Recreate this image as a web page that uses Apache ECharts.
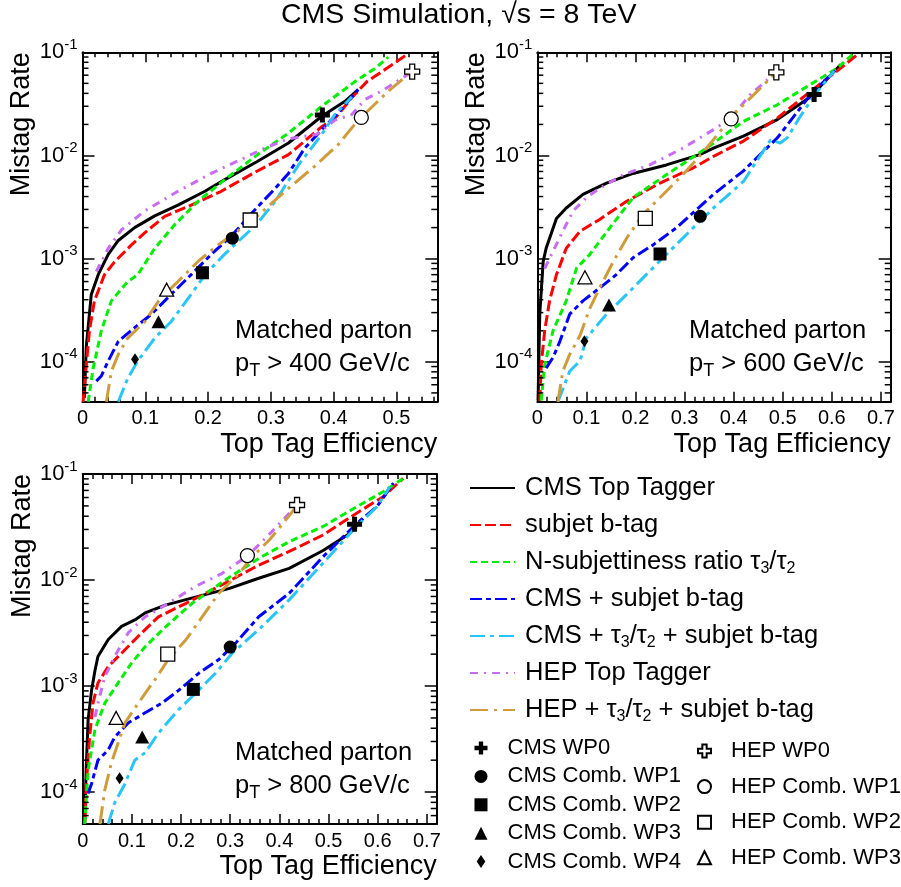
<!DOCTYPE html>
<html>
<head>
<meta charset="utf-8">
<script src="https://cdn.jsdelivr.net/npm/echarts@6/dist/echarts.min.js"></script>
<style>
html, body { margin: 0; padding: 0; background: #fff; }
#chart { width: 901px; height: 887px; }
</style>
</head>
<body>
<div id="chart"></div>
<script>
// ---- data: [top tag efficiency, mistag rate] ----
// pT > 400 GeV/c
const cms400 = [[0.003,4.5e-5],[0.006,1.4e-4],[0.014,4.5e-4],[0.025,7e-4],[0.041,1.1e-3],[0.057,1.5e-3],[0.083,2e-3],[0.115,2.6e-3],[0.152,3.3e-3],[0.195,4.5e-3],[0.226,5.8e-3],[0.279,8.8e-3],[0.328,1.32e-2],[0.381,2.4e-2],[0.418,3.35e-2],[0.439,4.35e-2]]
const subjet400 = [[0.001,4.1e-5],[0.006,9.3e-5],[0.011,2e-4],[0.019,3.9e-4],[0.035,7e-4],[0.051,9.3e-4],[0.078,1.36e-3],[0.099,1.78e-3],[0.131,2.57e-3],[0.173,3.3e-3],[0.221,4.5e-3],[0.277,7e-3],[0.328,1.02e-2],[0.381,1.9e-2],[0.405,2.4e-2],[0.43,3.7e-2],[0.453,5.2e-2],[0.48,6.7e-2],[0.5,8.1e-2],[0.514,9.3e-2]]
const nsub400 = [[0.009,4.1e-5],[0.017,8.7e-5],[0.03,2e-4],[0.046,3.9e-4],[0.072,6e-4],[0.088,7e-4],[0.115,1.26e-3],[0.147,2.14e-3],[0.184,3.6e-3],[0.226,5.8e-3],[0.279,1.02e-2],[0.328,1.65e-2],[0.381,3e-2],[0.434,5.2e-2],[0.466,7e-2],[0.487,9e-2]]
const cmsB400 = [[0.022,6.5e-5],[0.03,7.3e-5],[0.041,1.02e-4],[0.057,1.58e-4],[0.083,2.14e-4],[0.11,2.9e-4],[0.141,4.5e-4],[0.173,7e-4],[0.205,1.1e-3],[0.237,1.66e-3],[0.275,3e-3],[0.307,4.8e-3],[0.328,6.7e-3],[0.354,1.18e-2],[0.381,1.78e-2],[0.402,2.4e-2],[0.423,3.35e-2],[0.439,4.35e-2]]
const cmsTauB400 = [[0.057,4.1e-5],[0.072,6.9e-5],[0.088,1.02e-4],[0.115,1.7e-4],[0.141,2.45e-4],[0.173,4.5e-4],[0.195,7e-4],[0.226,1.1e-3],[0.277,2.15e-3],[0.307,3.6e-3],[0.344,8.1e-3],[0.381,1.6e-2],[0.402,2.5e-2],[0.429,3.7e-2]]
const hep400 = [[0.022,7.5e-4],[0.041,1.26e-3],[0.062,1.9e-3],[0.099,2.9e-3],[0.152,4.5e-3],[0.205,6.7e-3],[0.258,9.5e-3],[0.293,1.2e-2],[0.328,1.45e-2],[0.373,1.6e-2],[0.402,2.2e-2],[0.429,2.5e-2],[0.45,3.5e-2],[0.476,4.2e-2],[0.52,6.2e-2]]
const hepTauB400 = [[0.038,4.1e-5],[0.046,8.1e-5],[0.057,1.18e-4],[0.072,1.7e-4],[0.099,2.45e-4],[0.125,4.2e-4],[0.152,6e-4],[0.184,9.4e-4],[0.216,1.36e-3],[0.269,2.3e-3],[0.328,4.8e-3],[0.37,7.9e-3],[0.407,1.27e-2],[0.439,2.2e-2],[0.487,4.2e-2],[0.524,6.5e-2]]

// pT > 600 GeV/c
const cms600 = [[0.0015,4.2e-5],[0.005,2.9e-4],[0.012,9.4e-4],[0.018,1.26e-3],[0.039,2.45e-3],[0.059,3.1e-3],[0.093,4.2e-3],[0.141,5.4e-3],[0.195,6.7e-3],[0.263,8.1e-3],[0.331,1.02e-2],[0.359,1.18e-2],[0.42,1.54e-2],[0.489,2.23e-2],[0.557,3.7e-2],[0.618,7.6e-2]]
const subjet600 = [[0.005,4.2e-5],[0.008,9.3e-5],[0.015,2e-4],[0.025,3.9e-4],[0.039,7e-4],[0.059,1.26e-3],[0.087,1.84e-3],[0.127,2.4e-3],[0.182,3.6e-3],[0.25,5.4e-3],[0.318,7.6e-3],[0.359,9.8e-3],[0.42,1.38e-2],[0.489,2.3e-2],[0.557,4.2e-2],[0.611,6.6e-2],[0.652,9.5e-2]]
const nsub600 = [[0.008,4.2e-5],[0.015,9.3e-5],[0.032,2e-4],[0.059,3.9e-4],[0.08,8.1e-4],[0.107,1.1e-3],[0.148,2e-3],[0.195,3.9e-3],[0.263,6.5e-3],[0.345,1.18e-2],[0.42,2.14e-2],[0.489,3.1e-2],[0.557,4.9e-2],[0.611,7e-2],[0.645,9.8e-2]]
const cmsB600 = [[0.018,8.7e-5],[0.032,1.1e-4],[0.046,1.58e-4],[0.066,2.9e-4],[0.093,3.9e-4],[0.127,5.2e-4],[0.161,7e-4],[0.195,1.02e-3],[0.236,1.36e-3],[0.284,2e-3],[0.359,4.2e-3],[0.42,7.1e-3],[0.489,1.48e-2],[0.557,3.9e-2],[0.611,7e-2]]
const cmsTauB600 = [[0.042,4.1e-5],[0.066,8.1e-5],[0.087,1.02e-4],[0.1,1.7e-4],[0.141,2.9e-4],[0.182,4.5e-4],[0.222,7e-4],[0.263,1.1e-3],[0.318,2e-3],[0.359,3.1e-3],[0.42,5.6e-3],[0.475,1.41e-2],[0.495,1.32e-2],[0.509,1.48e-2],[0.536,2.4e-2],[0.564,3.8e-2],[0.605,6.6e-2]]
const hep600 = [[0.015,8e-4],[0.029,1.1e-3],[0.052,1.85e-3],[0.073,2.9e-3],[0.1,3.9e-3],[0.127,4.8e-3],[0.175,6.5e-3],[0.229,8.1e-3],[0.297,1.18e-2],[0.359,1.78e-2],[0.393,2.28e-2],[0.434,3.9e-2],[0.487,6.4e-2]]
const hepTauB600 = [[0.042,4.1e-5],[0.052,8.1e-5],[0.066,1.18e-4],[0.087,1.8e-4],[0.107,3.3e-4],[0.127,5.2e-4],[0.155,9.4e-4],[0.182,1.58e-3],[0.216,2.7e-3],[0.263,4.5e-3],[0.304,7.1e-3],[0.345,1.18e-2],[0.373,1.72e-2],[0.4,2.5e-2],[0.434,3.6e-2],[0.487,6.4e-2]]

// pT > 800 GeV/c
const cms800 = [[0.004,5.1e-5],[0.007,1.6e-4],[0.011,4.8e-4],[0.018,9.1e-4],[0.025,1.4e-3],[0.031,1.9e-3],[0.052,2.75e-3],[0.079,3.65e-3],[0.106,4.2e-3],[0.127,4.9e-3],[0.168,5.8e-3],[0.229,6.9e-3],[0.297,8.3e-3],[0.358,1.04e-2],[0.42,1.29e-2],[0.489,1.9e-2],[0.543,2.75e-2],[0.57,3.8e-2]]
const subjet800 = [[0.004,5e-5],[0.007,1.13e-4],[0.014,3.3e-4],[0.021,6.9e-4],[0.031,1.07e-3],[0.052,1.53e-3],[0.079,2.04e-3],[0.113,2.95e-3],[0.154,4.5e-3],[0.209,6e-3],[0.277,8.7e-3],[0.358,1.38e-2],[0.42,1.86e-2],[0.489,2.66e-2],[0.557,4.27e-2],[0.611,6.1e-2],[0.652,9.1e-2]]
const nsub800 = [[0.004,5e-5],[0.011,1.6e-4],[0.025,3.9e-4],[0.045,6.9e-4],[0.072,1.07e-3],[0.099,1.64e-3],[0.127,2.35e-3],[0.168,3.6e-3],[0.222,6e-3],[0.29,1e-2],[0.358,1.6e-2],[0.42,2.3e-2],[0.489,3.2e-2],[0.557,4.9e-2],[0.611,6.8e-2],[0.652,9.1e-2]]
const cmsB800 = [[0.011,9.7e-5],[0.018,1.2e-4],[0.031,2e-4],[0.052,2.5e-4],[0.065,3.3e-4],[0.093,4.5e-4],[0.127,5.6e-4],[0.161,6.9e-4],[0.195,9.1e-4],[0.236,1.32e-3],[0.277,1.78e-3],[0.311,2.54e-3],[0.358,4.5e-3],[0.42,7.5e-3],[0.489,1.66e-2],[0.557,3.4e-2],[0.598,4.9e-2],[0.632,8.2e-2]]
const cmsTauB800 = [[0.052,5e-5],[0.065,7.9e-5],[0.086,1.2e-4],[0.106,2e-4],[0.127,2.35e-4],[0.154,3.6e-4],[0.195,6e-4],[0.229,8.5e-4],[0.27,1.32e-3],[0.304,2.04e-3],[0.358,3.4e-3],[0.42,6.5e-3],[0.489,1.45e-2],[0.557,3.2e-2],[0.598,4.9e-2],[0.625,7.6e-2]]
const hep800 = [[0.025,5.1e-4],[0.031,6.9e-4],[0.045,1.23e-3],[0.065,1.9e-3],[0.093,3.2e-3],[0.127,4.5e-3],[0.168,5.8e-3],[0.229,8.7e-3],[0.283,1.15e-2],[0.338,1.73e-2],[0.376,2.6e-2],[0.41,3.8e-2],[0.436,5.1e-2]]
const hepTauB800 = [[0.035,5e-5],[0.045,1.05e-4],[0.058,1.86e-4],[0.072,2.9e-4],[0.086,4.5e-4],[0.113,6.9e-4],[0.147,1.15e-3],[0.174,1.78e-3],[0.209,2.7e-3],[0.243,4.5e-3],[0.277,7.5e-3],[0.318,1.15e-2],[0.345,1.66e-2],[0.38,2.4e-2],[0.407,3.4e-2],[0.434,4.9e-2]]

// working points, one point per panel (400, 600, 800)
const cmsWP0 = [[0.382,2.47e-2],[0.564,3.9e-2],[0.553,3.36e-2]]
const cmsWP1 = [[0.2386,1.58e-3],[0.332,2.57e-3],[0.3,2.33e-3]]
const cmsWP2 = [[0.191,7.3e-4],[0.25,1.11e-3],[0.225,9.3e-4]]
const cmsWP3 = [[0.121,2.45e-4],[0.146,3.55e-4],[0.121,3.3e-4]]
const cmsWP4 = [[0.0836,1.06e-4],[0.096,1.58e-4],[0.075,1.35e-4]]
const hepWP0 = [[0.525,6.5e-2],[0.487,6.4e-2],[0.436,5.1e-2]]
const hepWP1 = [[0.444,2.34e-2],[0.395,2.26e-2],[0.335,1.7e-2]]
const hepWP2 = [[0.267,2.37e-3],[0.22,2.46e-3],[0.173,2e-3]]
const hepWP3 = [[0.134,5e-4],[0.097,6.6e-4],[0.068,5e-4]]

const ptLabels = ['400', '600', '800']
const logMinorTicks = [5e-5, 6e-5, 7e-5, 8e-5, 9e-5,
  2e-4, 3e-4, 4e-4, 5e-4, 6e-4, 7e-4, 8e-4, 9e-4,
  2e-3, 3e-3, 4e-3, 5e-3, 6e-3, 7e-3, 8e-3, 9e-3,
  2e-2, 3e-2, 4e-2, 5e-2, 6e-2, 7e-2, 8e-2, 9e-2]

// ---- layout / style ----
const FONT = '"Liberation Sans", Arial, sans-serif'
const grids = [
  { left: 82.5, top: 52.3, width: 354.8, height: 349.5 },
  { left: 537.3, top: 52.3, width: 353.4, height: 349.5 },
  { left: 82.7, top: 474, width: 354, height: 350 }
]
const xMax = [0.565, 0.72, 0.72]
const yMin = [4.1e-5, 4.1e-5, 5e-5]

const CROSS = 'path://M1,0H2V1H3V2H2V3H1V2H0V1H1Z'
const DIAMOND = 'path://M4,0L8,6L4,12L0,6Z'

const lineDefs = [
  { name: 'CMS Top Tagger', color: '#000000', dash: 'solid' },
  { name: 'subjet b-tag', color: '#ff0000', dash: [11, 4] },
  { name: 'N-subjettiness ratio τ3/τ2', color: '#00ee00', dash: [7, 4] },
  { name: 'CMS + subjet b-tag', color: '#0000ff', dash: [12, 4, 5, 4] },
  { name: 'CMS + τ3/τ2 + subjet b-tag', color: '#29c5f6', dash: [15, 5, 4, 5] },
  { name: 'HEP Top Tagger', color: '#c86cf6', dash: [8, 6, 2, 6] },
  { name: 'HEP + τ3/τ2 + subjet b-tag', color: '#cf9c3c', dash: [18, 6, 3, 6] }
]
const panelLines = [
  [cms400, subjet400, nsub400, cmsB400, cmsTauB400, hep400, hepTauB400],
  [cms600, subjet600, nsub600, cmsB600, cmsTauB600, hep600, hepTauB600],
  [cms800, subjet800, nsub800, cmsB800, cmsTauB800, hep800, hepTauB800]
]
const markerDefs = [
  { name: 'CMS WP0', symbol: CROSS, size: 15, open: false, data: cmsWP0 },
  { name: 'CMS Comb. WP1', symbol: 'circle', size: 13, open: false, data: cmsWP1 },
  { name: 'CMS Comb. WP2', symbol: 'rect', size: 13, open: false, data: cmsWP2 },
  { name: 'CMS Comb. WP3', symbol: 'triangle', size: [14, 13], open: false, data: cmsWP3 },
  { name: 'CMS Comb. WP4', symbol: DIAMOND, size: [8, 12], open: false, data: cmsWP4 },
  { name: 'HEP WP0', symbol: CROSS, size: 15, open: true, data: hepWP0 },
  { name: 'HEP Comb. WP1', symbol: 'circle', size: 14, open: true, data: hepWP1 },
  { name: 'HEP Comb. WP2', symbol: 'rect', size: 14, open: true, data: hepWP2 },
  { name: 'HEP Comb. WP3', symbol: 'triangle', size: [14, 13], open: true, data: hepWP3 }
]

const tickLine = { color: '#000', width: 1.5 }

function buildAxes () {
  const xAxis = []
  const yAxis = []
  grids.forEach((g, i) => {
    const xBase = {
      type: 'value', gridIndex: i, min: 0, max: xMax[i], interval: 0.1,
      splitLine: { show: false },
      axisLine: { onZero: false, lineStyle: { color: '#000', width: 2 } },
      axisTick: { inside: true, length: 10, lineStyle: tickLine },
      minorTick: { show: true, splitNumber: 5, length: 5, lineStyle: tickLine }
    }
    xAxis.push(Object.assign({}, xBase, {
      position: 'bottom',
      name: 'Top Tag Efficiency',
      nameLocation: 'end',
      nameGap: 0,
      nameMoveOverlap: false,
      nameTextStyle: { fontFamily: FONT, fontSize: 27, color: '#000', align: 'right', verticalAlign: 'top', padding: [29, 0, 0, 0] },
      axisLabel: {
        margin: 7, fontFamily: FONT, fontSize: 20, color: '#000',
        formatter: v => Math.abs(v * 10 - Math.round(v * 10)) < 1e-6 ? (v === 0 ? '0' : v.toFixed(1)) : ''
      }
    }))
    xAxis.push(Object.assign({}, xBase, { position: 'top', axisLabel: { show: false } }))

    const yBase = {
      type: 'log', logBase: 10, gridIndex: i, min: yMin[i], max: 0.1,
      splitLine: { show: false },
      axisLine: { onZero: false, lineStyle: { color: '#000', width: 2 } },
      axisTick: { inside: true, length: 12, lineStyle: tickLine }
    }
    yAxis.push(Object.assign({}, yBase, {
      position: 'left',
      name: 'Mistag Rate',
      nameLocation: 'end',
      nameGap: 0,
      nameRotate: 90,
      nameMoveOverlap: false,
      nameTextStyle: { fontFamily: FONT, fontSize: 27, color: '#000', align: 'right', verticalAlign: 'bottom', padding: [0, 0, 47, 0] },
      axisLabel: {
        margin: 5, fontFamily: FONT, fontSize: 22, color: '#000', lineHeight: 30,
        formatter: v => {
          const e = Math.log10(v)
          const r = Math.round(e)
          return Math.abs(e - r) < 1e-6 ? '10{sup|' + r + '}' : ''
        },
        rich: { sup: { fontFamily: FONT, fontSize: 15, lineHeight: 15, verticalAlign: 'top', color: '#000' } }
      }
    }))
    yAxis.push(Object.assign({}, yBase, { position: 'right', axisLabel: { show: false } }))
  })
  return { xAxis, yAxis }
}

function buildSeries () {
  const series = []
  grids.forEach((g, i) => {
    // minor ticks of the log axes, at 2..9 x 10^n on both frame sides
    series.push({
      type: 'custom', xAxisIndex: 2 * i, yAxisIndex: 2 * i, silent: true, clip: false, z: 5,
      data: logMinorTicks.filter(v => v > yMin[i] && v < 0.1).map(v => [0, v]),
      renderItem: (params, api) => {
        const v = api.value(1)
        const p0 = api.coord([0, v])
        const p1 = api.coord([xMax[i], v])
        return {
          type: 'group',
          children: [
            { type: 'line', shape: { x1: p0[0], y1: p0[1], x2: p0[0] + 6, y2: p0[1] }, style: { stroke: '#000', lineWidth: 1.5 } },
            { type: 'line', shape: { x1: p1[0] - 6, y1: p1[1], x2: p1[0], y2: p1[1] }, style: { stroke: '#000', lineWidth: 1.5 } }
          ]
        }
      }
    })
    lineDefs.forEach((d, k) => {
      series.push({
        name: d.name, type: 'line', xAxisIndex: 2 * i, yAxisIndex: 2 * i,
        symbol: 'none', smooth: false, z: 3,
        itemStyle: { color: d.color },
        lineStyle: { color: d.color, width: 3, type: d.dash },
        data: panelLines[i][k]
      })
    })
    markerDefs.forEach(m => {
      series.push({
        name: m.name, type: 'scatter', xAxisIndex: 2 * i, yAxisIndex: 2 * i, z: 6,
        symbol: m.symbol, symbolSize: m.size,
        itemStyle: m.open
          ? { color: '#ffffff', borderColor: '#000', borderWidth: 1.3, opacity: 1 }
          : { color: '#000', opacity: 1 },
        data: [m.data[i]]
      })
    })
  })
  return series
}

const axes = buildAxes()
const tauRich = {
  s: { fontFamily: FONT, fontSize: 16, lineHeight: 14, verticalAlign: 'bottom', color: '#000' }
}

const annot = (left, top, pt) => ({
  text: 'Matched parton\np{sub|T} > ' + pt + ' GeV/c',
  left, top, padding: 0,
  textStyle: {
    fontFamily: FONT, fontSize: 25.5, lineHeight: 33, fontWeight: 'normal', color: '#000',
    rich: { sub: { fontFamily: FONT, fontSize: 18, lineHeight: 12, verticalAlign: 'bottom', color: '#000' } }
  }
})

const markerLegendText = { fontFamily: FONT, fontSize: 22, lineHeight: 22, color: '#000', padding: [0, 0, 0, 15] }

const option = {
  animation: false,
  backgroundColor: '#fff',
  title: [
    {
      text: 'CMS Simulation, √s = 8 TeV', left: 281, top: 1, padding: 0,
      textStyle: { fontFamily: FONT, fontSize: 28.5, fontWeight: 'normal', color: '#000' }
    },
    annot(235, 314, ptLabels[0]),
    annot(689, 314, ptLabels[1]),
    annot(235, 736, ptLabels[2])
  ],
  grid: grids.map(g => Object.assign({ outerBoundsMode: 'none', containLabel: false }, g)),
  xAxis: axes.xAxis,
  yAxis: axes.yAxis,
  legend: [
    {
      orient: 'vertical', left: 469, top: 473, padding: 0,
      itemWidth: 45, itemHeight: 14, itemGap: 7, selectedMode: false,
      data: lineDefs.map(d => d.name),
      itemStyle: { color: 'rgba(0,0,0,0)', borderColor: 'rgba(0,0,0,0)', borderWidth: 0 },
      formatter: n => n.replace('τ3/τ2', 'τ{s|3}/τ{s|2}'),
      textStyle: { fontFamily: FONT, fontSize: 25.5, lineHeight: 30, color: '#000', padding: [0, 0, 0, 5], rich: tauRich }
    },
    {
      orient: 'vertical', left: 474.5, top: 737, padding: 0,
      itemWidth: 13, itemHeight: 13, itemGap: 6.4, selectedMode: false,
      data: markerDefs.slice(0, 5).map(m => m.name),
      textStyle: markerLegendText
    },
    {
      orient: 'vertical', left: 697, top: 740, padding: 0,
      itemWidth: 13, itemHeight: 13, itemGap: 13.6, selectedMode: false,
      data: markerDefs.slice(5).map(m => m.name),
      textStyle: markerLegendText
    }
  ],
  series: buildSeries()
}

const chart = echarts.init(document.getElementById('chart'), null, { renderer: 'canvas' })
chart.setOption(option)
</script>
</body>
</html>
